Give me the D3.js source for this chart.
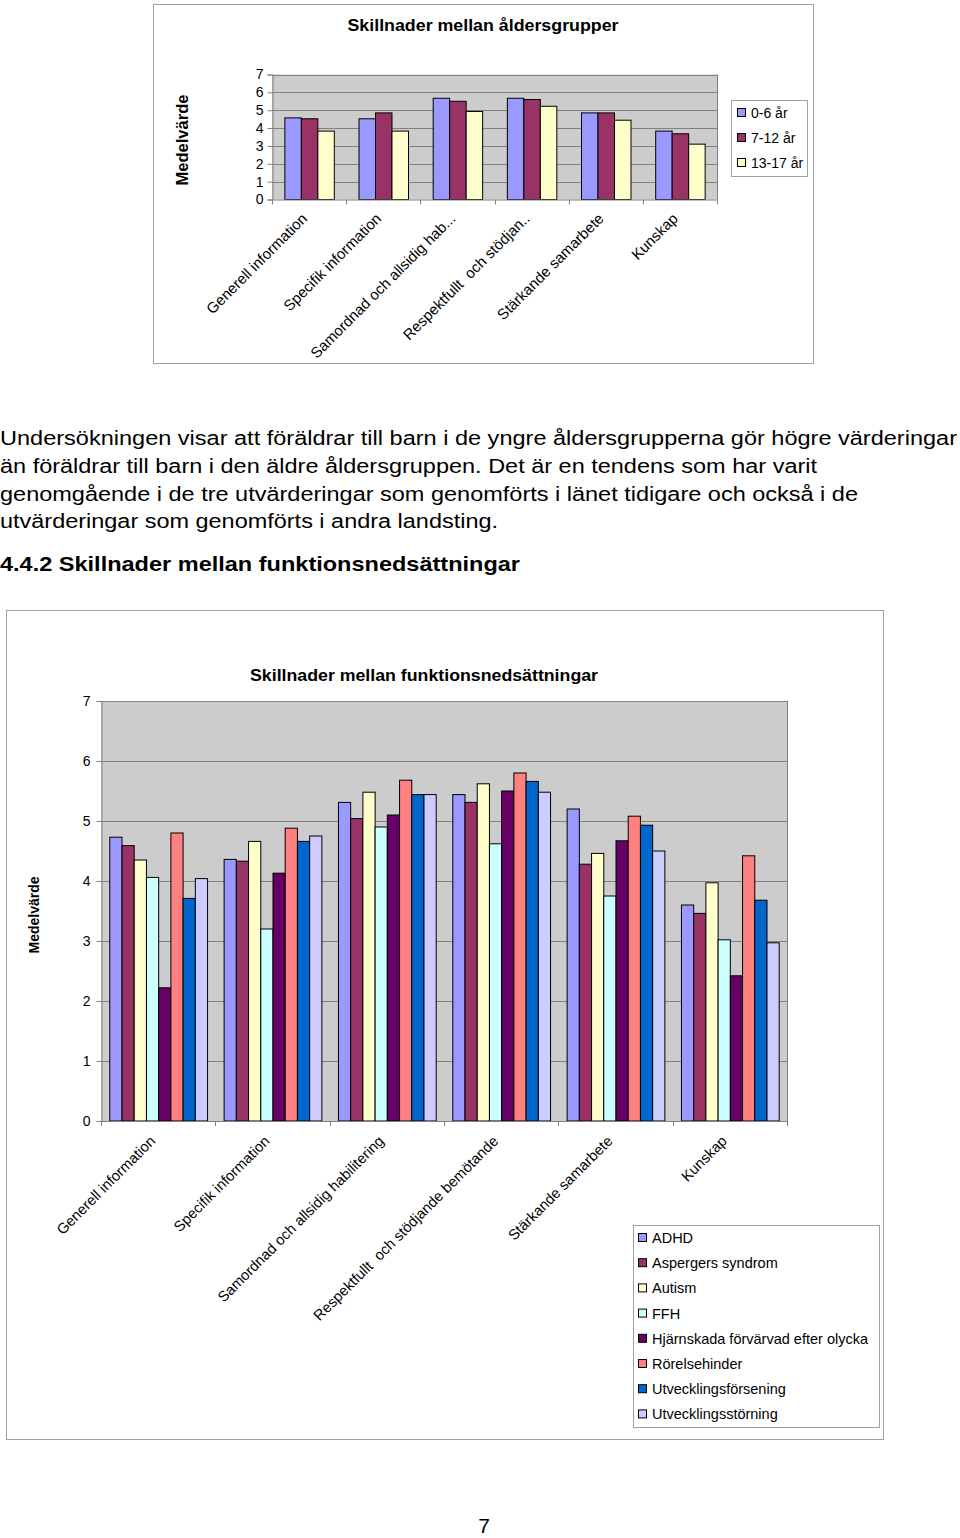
<!DOCTYPE html>
<html><head><meta charset="utf-8">
<script src="https://cdn.jsdelivr.net/npm/d3@7"></script>
<style>
body{margin:0;background:#fff;}
svg{display:block;font-family:Arial,"Liberation Sans",sans-serif;}
text{white-space:pre;}
</style></head>
<body>
<svg id="page" width="960" height="1538"></svg>
<script>
// ---------- Data: chart 1 ----------
const ageTitle = "Skillnader mellan åldersgrupper";
const ageCategories = ["Generell information","Specifik information","Samordnad och allsidig hab...","Respektfullt  och stödjan..","Stärkande samarbete","Kunskap"];
const ageSeries = ["0-6 år","7-12 år","13-17 år"];
const age0_6   = [4.57,4.52,5.67,5.67,4.85,3.83];
const age7_12  = [4.52,4.85,5.50,5.60,4.85,3.68];
const age13_17 = [3.83,3.83,4.93,5.22,4.44,3.10];
const ageColors = ["#9999FF","#993366","#FFFFCC"];
const yTicks = [0,1,2,3,4,5,6,7];

// ---------- Data: chart 2 ----------
const funcTitle = "Skillnader mellan funktionsnedsättningar";
const funcCategories = ["Generell information","Specifik information","Samordnad och allsidig habilitering","Respektfullt  och stödjande bemötande","Stärkande samarbete","Kunskap"];
const funcSeries = ["ADHD","Aspergers syndrom","Autism","FFH","Hjärnskada förvärvad efter olycka","Rörelsehinder","Utvecklingsförsening","Utvecklingsstörning"];
const adhd     = [4.73,4.36,5.31,5.44,5.20,3.60];
const asperger = [4.59,4.33,5.04,5.31,4.28,3.46];
const autism   = [4.35,4.66,5.48,5.62,4.46,3.97];
const ffh      = [4.06,3.20,4.90,4.62,3.75,3.02];
const hjarn    = [2.22,4.13,5.10,5.50,4.67,2.42];
const rorelse  = [4.80,4.88,5.68,5.80,5.08,4.42];
const utvFors  = [3.71,4.66,5.44,5.66,4.93,3.68];
const utvStor  = [4.04,4.75,5.44,5.48,4.50,2.97];
const funcColors = ["#9999FF","#993366","#FFFFCC","#CCFFFF","#660066","#FF8080","#0066CC","#CCCCFF"];

// ---------- Text ----------
const paragraph = [
 "Undersökningen visar att föräldrar till barn i de yngre åldersgrupperna gör högre värderingar",
 "än föräldrar till barn i den äldre åldersgruppen. Det är en tendens som har varit",
 "genomgående i de tre utvärderingar som genomförts i länet tidigare och också i de",
 "utvärderingar som genomförts i andra landsting."
];
const heading = "4.4.2 Skillnader mellan funktionsnedsättningar";
const pageNo = "7";

const svg = d3.select("#page");

function drawChart(opt){
  const g = svg.append("g");
  g.append("rect").attr("x",opt.box[0]+0.5).attr("y",opt.box[1]+0.5)
    .attr("width",opt.box[2]).attr("height",opt.box[3])
    .attr("fill","#fff").attr("stroke","#a0a0a0");
  const [L,T,R,B] = opt.plot;
  const x0 = d3.scaleBand().domain(opt.categories).range([L,R]).paddingInner(opt.pad).paddingOuter(opt.pad/2);
  const x1 = d3.scaleBand().domain(opt.seriesNames).range([0,x0.bandwidth()]);
  const y = d3.scaleLinear().domain([0,7]).range([B,T]);
  g.append("rect").attr("x",L).attr("y",T).attr("width",R-L).attr("height",B-T).attr("fill","#cccccc");
  g.selectAll(".grid").data(opt.ticks.filter(d=>d>0)).join("line")
    .attr("x1",L).attr("x2",R).attr("y1",d=>Math.round(y(d))+0.5).attr("y2",d=>Math.round(y(d))+0.5)
    .attr("stroke","#808080");
  g.append("line").attr("x1",R+0.5).attr("x2",R+0.5).attr("y1",T).attr("y2",B).attr("stroke","#808080");
  const rows = opt.categories.map((c,i)=>({c, vals: opt.seriesValues.map((s,j)=>({s:opt.seriesNames[j], v:s[i], j}))}));
  const grp = g.selectAll(".grp").data(rows).join("g").attr("transform",d=>`translate(${x0(d.c)},0)`);
  grp.selectAll("rect").data(d=>d.vals).join("rect")
    .attr("x",d=>x1(d.s)+0.5).attr("width",x1.bandwidth())
    .attr("y",d=>y(d.v)).attr("height",d=>B-y(d.v))
    .attr("fill",d=>opt.colors[d.j]).attr("stroke","#000").attr("stroke-width",1);
  const ya = g.append("g").attr("transform",`translate(${L+0.5},0)`)
    .call(d3.axisLeft(y).tickValues(opt.ticks).tickFormat(d3.format("d")).tickSize(opt.ytick).tickPadding(opt.ypad));
  ya.selectAll("path,line").attr("stroke","#808080");
  ya.selectAll("text").attr("font-size",opt.tickFont).attr("fill","#000")
    .attr("font-family","Arial,'Liberation Sans',sans-serif");
  g.append("line").attr("x1",L).attr("x2",R).attr("y1",B+0.5).attr("y2",B+0.5).attr("stroke","#808080");
  const bounds = d3.range(opt.categories.length+1).map(i=>L + i*x0.step());
  g.selectAll(".xt").data(bounds).join("line")
    .attr("x1",d=>Math.round(d)+0.5).attr("x2",d=>Math.round(d)+0.5).attr("y1",B).attr("y2",B+5).attr("stroke","#808080");
  const xa = g.append("g").attr("transform",`translate(0,${B})`)
    .call(d3.axisBottom(x0).tickSize(0));
  xa.select(".domain").remove();
  xa.selectAll("text").attr("y",0).attr("dy",0).attr("x",0)
    .attr("text-anchor","end").attr("font-size",opt.xFont).attr("fill","#000")
    .attr("font-family","Arial,'Liberation Sans',sans-serif")
    .style("white-space","pre")
    .attr("transform",`translate(${opt.xoff[0]},${opt.xoff[1]}) rotate(-45)`);
  g.append("text").attr("x",opt.titlePos[0]).attr("y",opt.titlePos[1]).attr("text-anchor","middle")
    .attr("font-size",opt.titleFont).attr("font-weight","bold")
    .attr("textLength",opt.titleLen).attr("lengthAdjust","spacingAndGlyphs").text(opt.title);
  g.append("text").attr("transform",`translate(${opt.yTitlePos[0]},${opt.yTitlePos[1]}) rotate(-90)`)
    .attr("text-anchor","middle").attr("font-size",opt.yTitleFont).attr("font-weight","bold").text("Medelvärde");
  const [lx,ly,lw,lh] = opt.legend;
  g.append("rect").attr("x",lx+0.5).attr("y",ly+0.5).attr("width",lw).attr("height",lh)
    .attr("fill","#fff").attr("stroke","#a0a0a0");
  const li = g.selectAll(".li").data(opt.seriesNames).join("g")
    .attr("transform",(d,i)=>`translate(${lx+opt.legSw[0]},${ly+opt.legSw[1]+i*opt.legStep})`);
  li.append("rect").attr("x",0.5).attr("y",-4.5).attr("width",opt.legSw[2]).attr("height",opt.legSw[2])
    .attr("fill",(d,i)=>opt.colors[i]).attr("stroke","#000");
  li.append("text").attr("x",opt.legSw[3]).attr("y",0).attr("dy","0.35em").attr("font-size",opt.legFont).text(d=>d);
}

drawChart({
  box:[153,4,660,359], plot:[272,74.5,717,199.5], pad:0.333,
  categories:ageCategories, seriesNames:ageSeries, seriesValues:[age0_6,age7_12,age13_17], colors:ageColors,
  ticks:yTicks, ytick:5, ypad:4, tickFont:14, xFont:15, xoff:[-1,20],
  title:ageTitle, titlePos:[483,31], titleFont:17, titleLen:271, yTitlePos:[188,140], yTitleFont:16.5,
  legend:[731,100,76,76], legSw:[6,13,8,14], legStep:25, legFont:14
});

drawChart({
  box:[6,610,877,829], plot:[101,701,787,1121], pad:0.145,
  categories:funcCategories, seriesNames:funcSeries,
  seriesValues:[adhd,asperger,autism,ffh,hjarn,rorelse,utvFors,utvStor], colors:funcColors,
  ticks:yTicks, ytick:5, ypad:6, tickFont:14, xFont:14.7, xoff:[-2,21],
  title:funcTitle, titlePos:[424,681], titleFont:17, titleLen:348, yTitlePos:[39,915], yTitleFont:14,
  legend:[633,1225,246,202], legSw:[5,13,8,14], legStep:25.2, legFont:14.5
});

const lineWidths = [957,817,858,498];
const lineBase = [445,473,501,528];
svg.selectAll(".para").data(paragraph).join("text")
  .attr("x",0).attr("y",(d,i)=>lineBase[i]).attr("font-size",20)
  .attr("textLength",(d,i)=>lineWidths[i]).attr("lengthAdjust","spacingAndGlyphs").text(d=>d);
svg.append("text").attr("x",0).attr("y",571).attr("font-size",21).attr("font-weight","bold")
  .attr("textLength",520).attr("lengthAdjust","spacingAndGlyphs").text(heading);
svg.append("text").attr("x",484).attr("y",1533).attr("text-anchor","middle").attr("font-size",21).text(pageNo);
</script>
</body></html>
